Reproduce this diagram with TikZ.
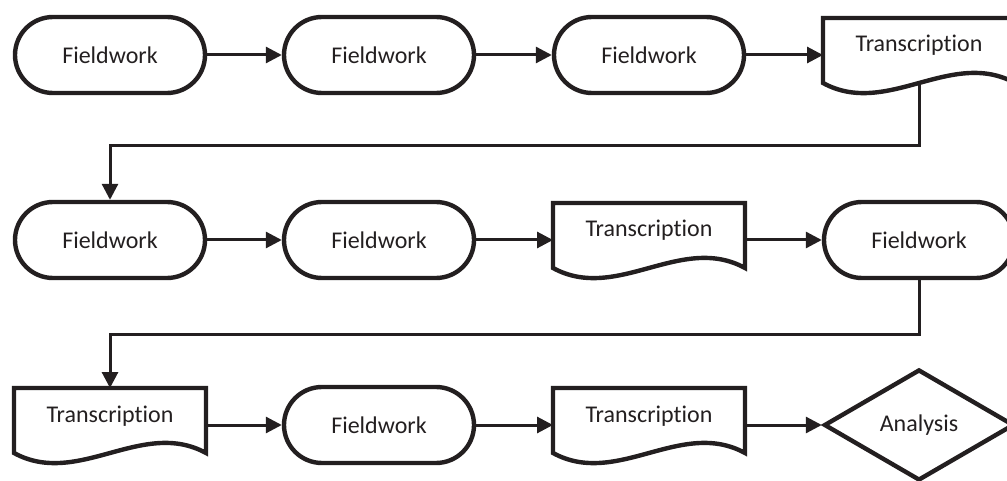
\documentclass[tikz,border=0pt]{standalone}
\usepackage{fontspec}
\setmainfont{Carlito}[Ligatures={NoCommon}]
\usetikzlibrary{arrows.meta,shapes.misc,shapes.geometric,calc}
\definecolor{ink}{HTML}{231F20}
\begin{document}
\begin{tikzpicture}[
  x=1pt, y=1pt,
  font=\fontsize{24pt}{28pt}\selectfont,
  every node/.style={text=ink},
  outline/.style={draw=ink, line width=4.4pt},
  fieldbox/.style={rounded rectangle, outline, minimum width=190pt,
    minimum height=76pt, inner sep=0pt},
  docbox/.style={rectangle, minimum width=192pt, minimum height=74pt,
    text height=20pt, text depth=26pt, inner sep=0pt, outer sep=0pt},
  decision/.style={diamond, outline, minimum width=190pt,
    minimum height=111pt, inner sep=0pt},
  conn/.style={draw=ink, line width=3pt,
    -{Triangle[length=16pt,width=16pt]}},
]
\useasboundingbox (0,0) rectangle (1007,480);
\clip (0,0) rectangle (1007,480);

% first row
\node[fieldbox] (f1) at (110,425) {Fieldwork};
\node[fieldbox] (f2) at (379,425) {Fieldwork};
\node[fieldbox] (f3) at (649,425) {Fieldwork};
\node[docbox]   (t1) at (919,425) {Transcription};

% second row
\node[fieldbox] (f4) at (110,240) {Fieldwork};
\node[fieldbox] (f5) at (379,240) {Fieldwork};
\node[docbox]   (t2) at (649,240) {Transcription};
\node[fieldbox] (f6) at (919,240) {Fieldwork};

% third row
\node[docbox]   (t3) at (110,55) {Transcription};
\node[fieldbox] (f7) at (379,55) {Fieldwork};
\node[docbox]   (t4) at (649,55) {Transcription};
\node[decision] (d1) at (919,55) {Analysis};

% document outlines with a wavy lower edge
\foreach \d in {t1,t2,t3,t4}
  \draw[outline, line join=miter]
    (\d.north west) -- (\d.north east) -- ([yshift=9pt]\d.south east)
    .. controls ($(\d.south east)!1/3!(\d.south west)+(0,44pt)$)
           and ($(\d.south east)!2/3!(\d.south west)+(0,-26pt)$)
    .. ([yshift=9pt]\d.south west) -- cycle;

% connectors
\draw[conn] (f1.east) -- (f2.west);
\draw[conn] (f2.east) -- (f3.west);
\draw[conn] (f3.east) -- (t1.west);
\draw[conn] ([yshift=9pt]t1.south) |- ($(t1.south)!0.5!(f4.north)$) -| (f4.north);

\draw[conn] (f4.east) -- (f5.west);
\draw[conn] (f5.east) -- (t2.west);
\draw[conn] (t2.east) -- (f6.west);
\draw[conn] (f6.south) |- ($(f6.south)!0.5!(t3.north)$) -| (t3.north);

\draw[conn] (t3.east) -- (f7.west);
\draw[conn] (f7.east) -- (t4.west);
\draw[conn] (t4.east) -- (d1.west);
\end{tikzpicture}
\end{document}
